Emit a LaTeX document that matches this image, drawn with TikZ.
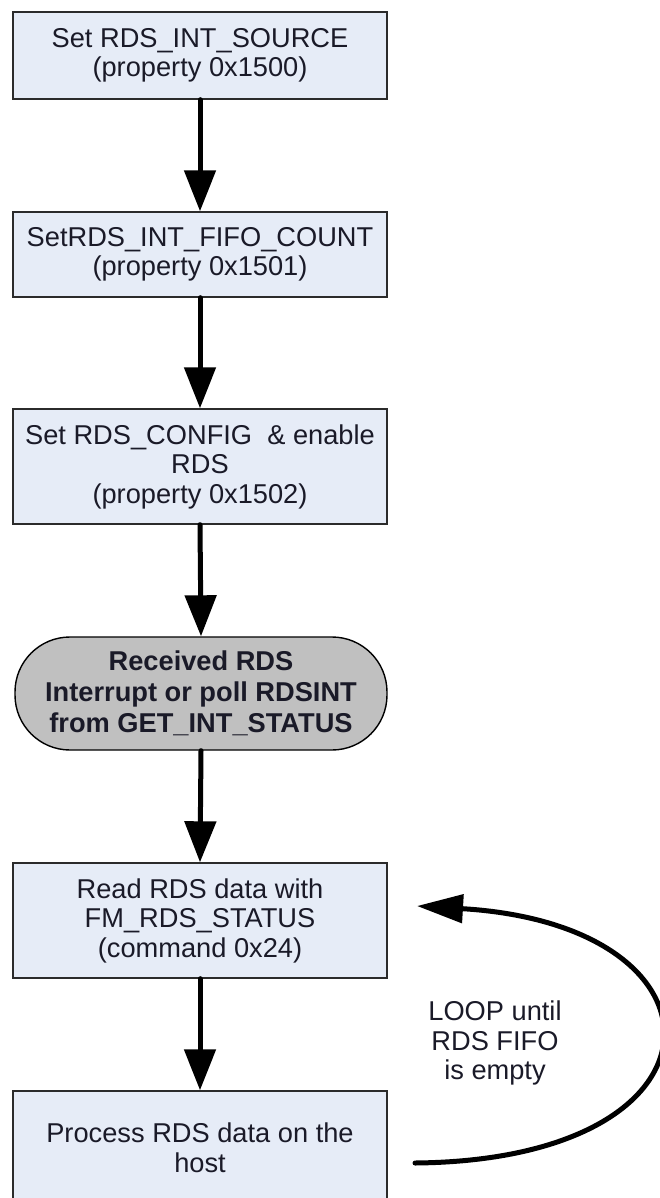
\documentclass[tikz,border=0pt]{standalone}
\usepackage{fontspec}
\setmainfont{Liberation Sans}
\usetikzlibrary{arrows.meta}
\definecolor{stepfill}{HTML}{E6ECF7}
\definecolor{stepborder}{HTML}{2B2B2B}
\definecolor{eventfill}{HTML}{C0C0C0}
\definecolor{textdark}{HTML}{1A1A28}
\tikzset{
  box/.style={rectangle, align=center, draw=stepborder, line width=0.8pt, fill=stepfill, text=textdark,
    minimum width=7.48cm, inner sep=0pt, font=\fontsize{15.5}{16.8}\selectfont},
  event/.style={box, rounded corners=1.1cm, fill=eventfill, draw=black, minimum width=7.44cm,
    minimum height=2.26cm, font=\fontsize{15.5}{17.5}\selectfont\bfseries},
  note/.style={align=center, text=textdark, font=\fontsize{15.5}{17}\selectfont},
  flow/.style={-{Triangle[length=0.82cm, width=0.62cm]}, line width=0.1cm, line cap=round, draw=black},
  loopflow/.style={-{Triangle[length=0.92cm, width=0.56cm]}, line width=0.1cm, line cap=round, draw=black}
}
\begin{document}
\begin{tikzpicture}
\useasboundingbox (0,0) rectangle (13.18,-23.96);

\node[box, minimum height=1.74cm] (intsource) at (4.0, -1.11) {Set RDS\_INT\_SOURCE\\(property 0x1500)};
\node[box, minimum height=1.70cm] (fifocount) at (4.0, -5.09) {SetRDS\_INT\_FIFO\_COUNT\\(property 0x1501)};
\node[box, minimum height=2.30cm] (config) at (4.0, -9.33) {Set RDS\_CONFIG\ \ \& enable\\RDS\\(property 0x1502)};
\node[event] (received) at (4.02, -13.87) {Received RDS\\Interrupt or poll RDSINT\\from GET\_INT\_STATUS};
\node[box, minimum height=2.30cm] (readdata) at (4.0, -18.41) {Read RDS data with\\FM\_RDS\_STATUS\\(command 0x24)};
\node[box, minimum height=2.26cm] (process) at (4.0, -22.95) {Process RDS data on the\\host};

\node[note] (looplabel) at (9.9, -20.86) {LOOP until\\RDS FIFO\\is empty};

\coordinate (loopstart) at (8.30, -23.26);
\coordinate (loopend) at (8.34, -18.12);

\draw[flow] (intsource.south) -- (fifocount.north);
\draw[flow] (fifocount.south) -- (config.north);
\draw[flow] (config.south) -- (received.north);
\draw[flow] (received.south) -- (readdata.north);
\draw[flow] (readdata.south) -- (process.north);
\draw[loopflow] (loopstart) .. controls (14.78, -23.2) and (14.78, -18.5) .. (loopend);

\end{tikzpicture}
\end{document}
